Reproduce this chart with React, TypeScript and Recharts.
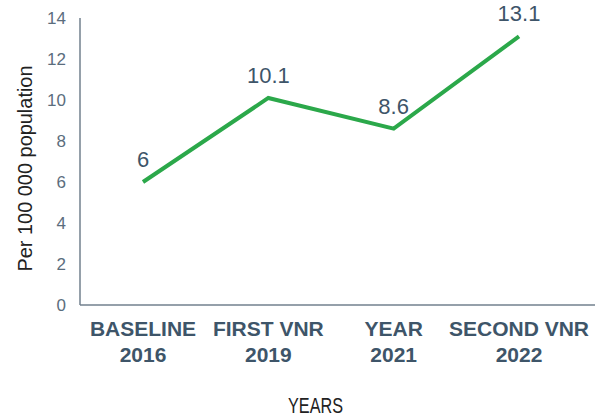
import React from 'react';
import { LineChart, Line, XAxis, YAxis, LabelList } from 'recharts';

const categoryTop = ['BASELINE', 'FIRST VNR', 'YEAR', 'SECOND VNR'];
const categoryBottom = ['2016', '2019', '2021', '2022'];
const rates = [6, 10.1, 8.6, 13.1];
const yTicks = [0, 2, 4, 6, 8, 10, 12, 14];

const data = categoryTop.map((c, i) => ({
  name: c + '\n' + categoryBottom[i],
  value: rates[i],
}));

const tickColor = '#5b6d7d';
const catColor = '#3e5569';
const axisColor = '#72818e';

const XTick = (props: any) => {
  const { x, y, payload } = props;
  const [l1, l2] = String(payload.value).split('\n');
  return (
    <g>
      <text x={x} y={y + 31} textAnchor="middle" fill={catColor} fontSize={21} fontWeight={700} fontFamily="Liberation Sans, Arial, sans-serif">{l1}</text>
      <text x={x} y={y + 57} textAnchor="middle" fill={catColor} fontSize={21} fontWeight={700} fontFamily="Liberation Sans, Arial, sans-serif">{l2}</text>
    </g>
  );
};

const YearsLabel = (props: any) => {
  const vb = props.viewBox || {};
  return (
    <text x={vb.x + vb.width / 2 - 22} y={vb.y + 108} textAnchor="middle" fill="#222" fontSize={22} textLength={55} lengthAdjust="spacingAndGlyphs" fontFamily="Liberation Sans, Arial, sans-serif">YEARS</text>
  );
};

const YLabel = (props: any) => {
  const vb = props.viewBox || {};
  const cx = vb.x + 32;
  const cy = vb.y + vb.height / 2 + 7;
  return (
    <text x={cx} y={cy} transform={`rotate(-90, ${cx}, ${cy})`} textAnchor="middle" fill="#222" fontSize={20} textLength={206} lengthAdjust="spacingAndGlyphs" fontFamily="Liberation Sans, Arial, sans-serif">Per 100 000 population</text>
  );
};

export default function App() {
  return (
    <div style={{ position: 'absolute', left: 0, top: 0, width: 595, height: 420, background: '#fff' }}>
      <LineChart width={595} height={420} data={data} margin={{ top: 18, right: 0, bottom: 55, left: 0 }}>
        <XAxis
          dataKey="name"
          height={60}
          padding={{ left: 63, right: 76 }}
          tickLine={false}
          tickSize={0}
          tickMargin={0}
          interval={0}
          axisLine={{ stroke: axisColor, strokeWidth: 1.5 }}
          tick={<XTick />}
          label={<YearsLabel />}
        />
        <YAxis
          width={80}
          domain={[0, 14]}
          ticks={yTicks}
          tickLine={false}
          tickSize={0}
          tickMargin={14}
          axisLine={{ stroke: axisColor, strokeWidth: 1.5 }}
          tick={{ fill: tickColor, fontSize: 17, fontFamily: 'Liberation Sans, Arial, sans-serif' }}
          label={<YLabel />}
        />
        <Line
          type="linear"
          dataKey="value"
          stroke="#2ba84a"
          strokeWidth={4}
          dot={false}
          isAnimationActive={false}
        >
          <LabelList dataKey="value" position="top" offset={15} fill={catColor} fontSize={22} fontFamily="Liberation Sans, Arial, sans-serif" />
        </Line>
      </LineChart>
    </div>
  );
}
